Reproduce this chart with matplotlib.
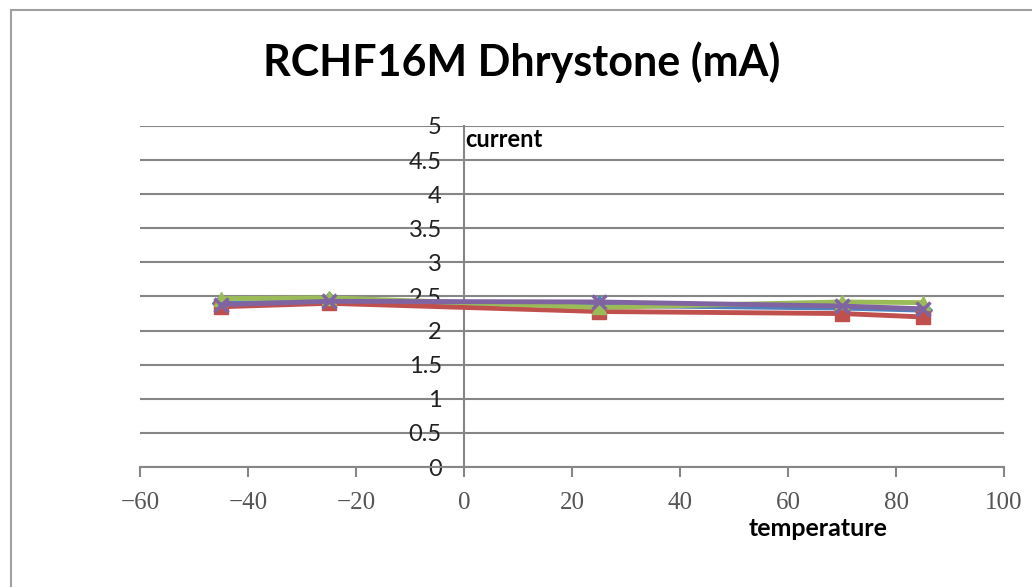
import matplotlib.pyplot as plt
from matplotlib.patches import Rectangle

temps = [-45, -25, 25, 70, 85]
blue_vals = [2.40, 2.43, 2.37, 2.33, 2.30]
red_vals = [2.35, 2.40, 2.28, 2.25, 2.20]
green_vals = [2.47, 2.48, 2.34, 2.42, 2.41]
purple_vals = [2.38, 2.43, 2.42, 2.36, 2.32]

fig = plt.figure(figsize=(10.32, 5.87), dpi=100)
fig.patches.append(Rectangle((11 / 1032, -0.05), 1.2, 1 - 10 / 587 + 0.05,
                             transform=fig.transFigure, fill=False,
                             edgecolor="#a0a0a0", linewidth=1.5))

ax = fig.add_axes([140 / 1032, 120 / 587, 864 / 1032, 341 / 587])
ax.set_xlim(-60, 100)
ax.set_ylim(0, 5)

ax.plot(temps, blue_vals, color="#4F81BD", lw=3.5, marker="D", ms=9, zorder=3)
ax.plot(temps, red_vals, color="#C0504D", lw=3.5, marker="s", ms=10, zorder=4)
ax.plot(temps, green_vals, color="#9BBB59", lw=3.5, marker="^", ms=10, zorder=5)
ax.plot(temps, purple_vals, color="#8064A2", lw=3.5, marker="x", ms=10, mew=2.5, zorder=6)

ax.set_yticks([0, 0.5, 1, 1.5, 2, 2.5, 3, 3.5, 4, 4.5, 5])
ax.set_yticklabels(["0", "0.5", "1", "1.5", "2", "2.5", "3", "3.5", "4", "4.5", "5"])
ax.set_xticks(range(-60, 101, 20))
ax.set_xticklabels(["\u221260", "\u221240", "\u221220", "0", "20", "40", "60", "80", "100"])

ax.grid(axis="y", color="#868686", lw=1.5)
ax.set_axisbelow(True)

ax.spines["left"].set_position(("data", 0))
ax.spines["bottom"].set_position(("data", 0))
ax.spines["top"].set_visible(False)
ax.spines["right"].set_visible(False)
for s in ("left", "bottom"):
    ax.spines[s].set_color("#868686")
    ax.spines[s].set_linewidth(1.5)

ax.tick_params(axis="y", length=0, pad=16, labelsize=17, labelcolor="#222222")
ax.tick_params(axis="x", direction="out", length=7, width=1.5, color="#868686",
               pad=11, labelsize=18, labelcolor="#555555")
for lbl in ax.get_yticklabels():
    lbl.set_fontfamily("Lato")
for lbl in ax.get_xticklabels():
    lbl.set_fontfamily("Liberation Serif")

fig.text(522 / 1032, 1 - 62 / 587, "RCHF16M Dhrystone (mA)", ha="center", va="center",
         fontsize=31, fontweight="bold", family="Lato")
ax.text(0.3, 4.8, "current", ha="left", va="center", fontsize=17, fontweight="bold", family="Lato")
fig.text(818 / 1032, 1 - 528 / 587, "temperature", ha="center", va="center",
         fontsize=18, fontweight="bold", family="Lato")

fig.savefig("out.png", dpi=100)
